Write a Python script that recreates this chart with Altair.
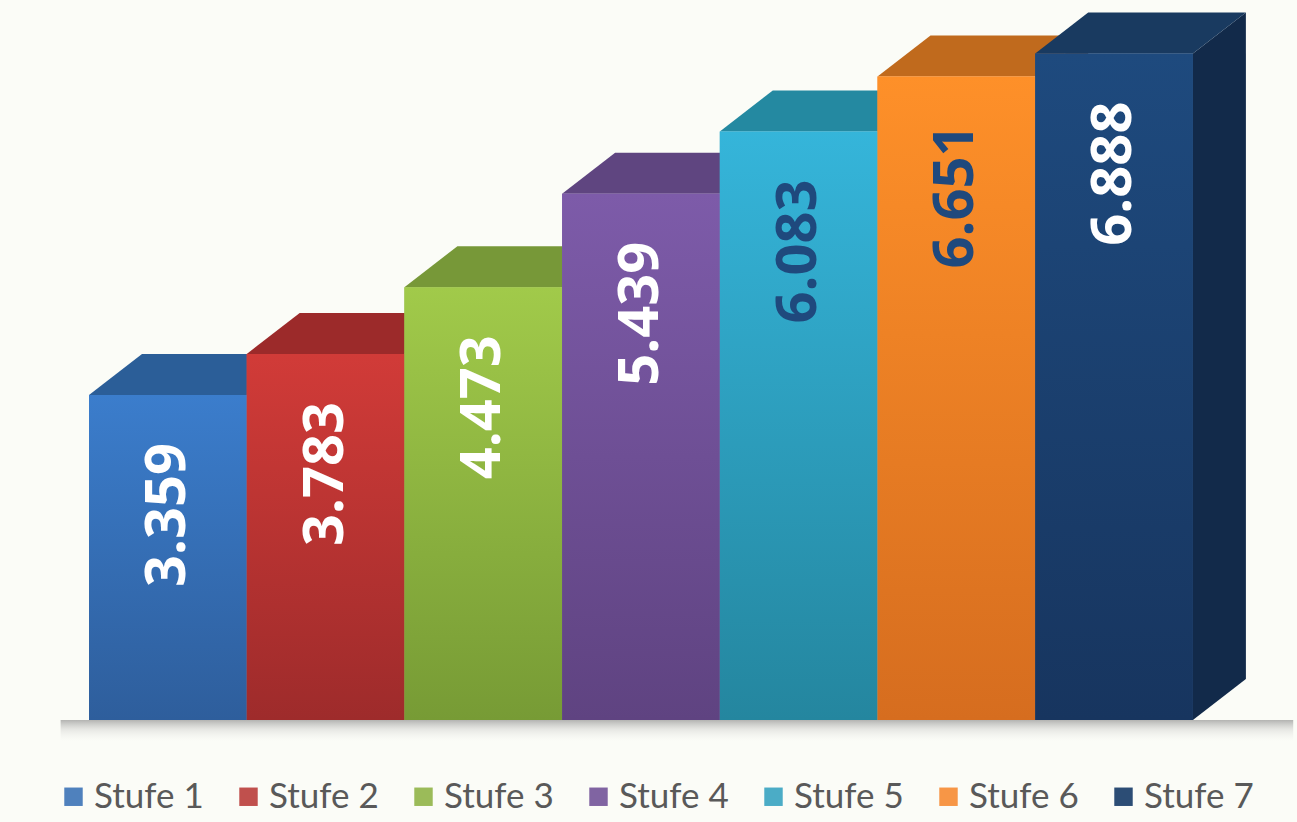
import altair as alt
import pandas as pd

# ---- data ----
stufen = ["Stufe 1", "Stufe 2", "Stufe 3", "Stufe 4", "Stufe 5", "Stufe 6", "Stufe 7"]
values = [3.359, 3.783, 4.473, 5.439, 6.083, 6.651, 6.888]
labels = ["3.359", "3.783", "4.473", "5.439", "6.083", "6.651", "6.888"]

# ---- styles ----
legend_colors = ["#4F81BD", "#C0504D", "#9BBB59", "#8064A2", "#4BACC6", "#F79646", "#2C4D75"]
front_top = ["#3b7dcc", "#d13b38", "#a1ca4a", "#7d5ba9", "#35b5da", "#fe9029", "#1e4a7e"]
front_bottom = ["#2e5e9c", "#9e2b2b", "#779b35", "#5f4381", "#24869f", "#d66d1f", "#17355f"]
top_face = ["#2b5e98", "#9c2a2a", "#779838", "#5f4580", "#2489a1", "#c06a1d", "#193a60"]
side_face = ["#22497a", "#7e2222", "#5e792c", "#4c3766", "#1d6e81", "#9a5517", "#122a4a"]
label_colors = ["#ffffff", "#ffffff", "#ffffff", "#ffffff", "#1f497d", "#1f497d", "#ffffff"]

DX = 0.336   # depth offset (x units)
DY = 0.424   # depth offset (y units)
W, H = 1297, 822
XDOM = [-0.5644, 7.66]
YDOM = [-1.054, 7.442]

n = len(values)
bars = pd.DataFrame({
    "stufe": stufen,
    "value": values,
    "label": labels,
    "x0": list(range(n)),
    "x1": [i + 1 for i in range(n)],
    "xm": [i + 0.5 for i in range(n)],
    "zero": [0.0] * n,
    "lcol": label_colors,
})

top_rows, side_rows = [], []
for i, (s, v) in enumerate(zip(stufen, values)):
    for x, y, y2 in [(i, v, v), (i + DX, v, v + DY), (i + 1, v, v + DY), (i + 1 + DX, v + DY, v + DY)]:
        top_rows.append({"stufe": s, "x": x, "y": y, "y2": y2, "col": top_face[i]})
    for x, y, y2 in [(i + 1, 0, v), (i + 1 + DX, DY, v + DY)]:
        side_rows.append({"stufe": s, "x": x, "y": y, "y2": y2, "col": side_face[i]})
tops = pd.DataFrame(top_rows)
sides = pd.DataFrame(side_rows)

xs = alt.Scale(domain=XDOM, nice=False, zero=False)
ys = alt.Scale(domain=YDOM, nice=False, zero=False)
noax = None

shadow_df = pd.DataFrame({"x": [-0.18], "x2": [n + DX + 0.3], "y": [0.0], "y2": [-0.22]})
shadow = alt.Chart(shadow_df).mark_rect(
    color=alt.Gradient(gradient="linear",
                       stops=[alt.GradientStop(color="rgba(120,120,120,0.55)", offset=0),
                              alt.GradientStop(color="rgba(170,170,170,0.25)", offset=0.45),
                              alt.GradientStop(color="rgba(220,220,220,0)", offset=1)],
                       x1=0, x2=0, y1=0, y2=1)
).encode(
    x=alt.X("x:Q", scale=xs, axis=noax), x2="x2:Q",
    y=alt.Y("y:Q", scale=ys, axis=noax), y2="y2:Q",
)

side_layer = alt.Chart(sides).mark_area(interpolate="linear").encode(
    x=alt.X("x:Q", scale=xs, axis=noax),
    y=alt.Y("y:Q", scale=ys, axis=noax, stack=None), y2="y2:Q",
    detail="stufe:N",
    fill=alt.Fill("col:N", scale=None),
)

top_layer = alt.Chart(tops).mark_area(interpolate="linear").encode(
    x=alt.X("x:Q", scale=xs, axis=noax),
    y=alt.Y("y:Q", scale=ys, axis=noax, stack=None), y2="y2:Q",
    detail="stufe:N",
    fill=alt.Fill("col:N", scale=None),
)

front_base = alt.Chart(bars).mark_rect().encode(
    x=alt.X("x0:Q", scale=xs, axis=noax), x2="x1:Q",
    y=alt.Y("zero:Q", scale=ys, axis=noax), y2="value:Q",
    color=alt.Color("stufe:N", sort=stufen,
                    scale=alt.Scale(domain=stufen, range=legend_colors),
                    legend=alt.Legend(title=None, orient="none", legendX=56, legendY=779,
                                      direction="horizontal", columns=7,
                                      symbolType="square", symbolSize=340,
                                      symbolStrokeWidth=0, symbolOpacity=1,
                                      labelFont="Lato", labelFontSize=35,
                                      labelColor="#595959", labelOffset=3,
                                      columnPadding=27, labelLimit=300)),
)

fronts = []
for i, s in enumerate(stufen):
    g = alt.Gradient(gradient="linear",
                     stops=[alt.GradientStop(color=front_top[i], offset=0),
                            alt.GradientStop(color=front_bottom[i], offset=1)],
                     x1=0, x2=0, y1=0, y2=1)
    fronts.append(
        alt.Chart(bars).transform_filter(alt.datum.stufe == s).mark_rect(color=g).encode(
            x=alt.X("x0:Q", scale=xs, axis=noax), x2="x1:Q",
            y=alt.Y("zero:Q", scale=ys, axis=noax), y2="value:Q",
        )
    )

text_layer = alt.Chart(bars).mark_text(
    angle=270, align="right", baseline="middle", dx=-48,
    font="Open Sans", fontWeight="bold", fontSize=56,
).encode(
    x=alt.X("xm:Q", scale=xs, axis=noax),
    y=alt.Y("value:Q", scale=ys, axis=noax),
    text="label:N",
    color=alt.Color("lcol:N", scale=None),
)

chart = alt.layer(shadow, side_layer, top_layer, front_base, *fronts, text_layer).properties(
    width=W, height=H,
    autosize=alt.AutoSizeParams(type="none"),
    padding=0,
    background="#fbfcf7",
).configure_view(stroke=None)

chart.save("out.html", embed_options={"renderer": "svg", "actions": False})
